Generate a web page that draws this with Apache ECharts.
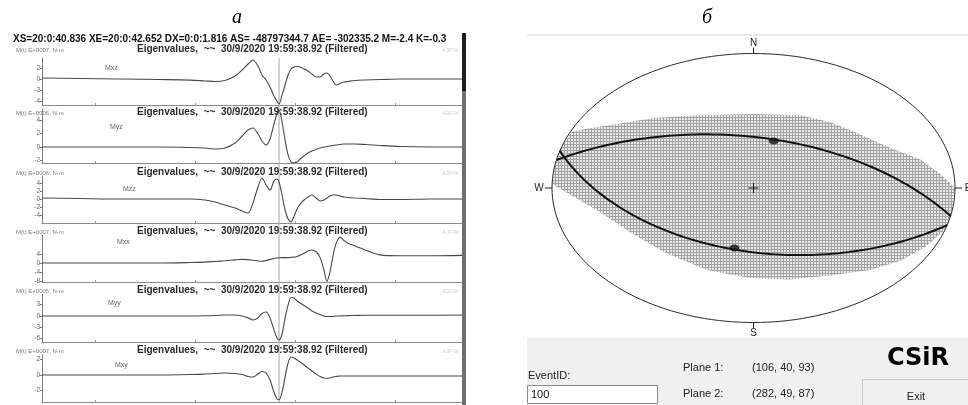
<!DOCTYPE html>
<html>
<head>
<meta charset="utf-8">
<script src="https://cdn.jsdelivr.net/npm/echarts@6.0.0/dist/echarts.min.js"></script>
<style>
html, body { margin: 0; padding: 0; background: #fff; }
#chart { width: 968px; height: 405px; }
</style>
</head>
<body>
<div id="chart"></div>
<script>
// ---------- data: filtered moment-tensor components (time in s after 20:00) ----------
const times = [40.836, 41.000, 41.173, 41.346, 41.476, 41.541, 41.584, 41.627, 41.671, 41.701,
  41.727, 41.748, 41.770, 41.787, 41.805, 41.822, 41.839, 41.852, 41.861, 41.874,
  41.887, 41.900, 41.913, 41.926, 41.939, 41.952, 41.969, 41.986, 42.003, 42.021,
  42.038, 42.055, 42.068, 42.081, 42.094, 42.107, 42.125, 42.142, 42.159, 42.190,
  42.233, 42.298, 42.384, 42.514, 42.652];

const mxz = [0.18, 0.1, 0, -0.1, -0.2, -0.35, -0.45, -0.27, 0.55, 1.64,
  2.73, 3.45, 2.36, 0.73, -0.18, -1.45, -3.1, -4.0, -4.55, -2.9,
  -1.1, 0.73, 1.82, 2.18, 2.27, 2.18, 1.82, 1.45, 0.91, 0.36,
  0.36, 0.91, 1.09, 0.55, -0.36, -1.09, -0.82, -0.55, -0.45, -0.27,
  -0.18, -0.1, 0, 0, 0];
const myz = [0, 0, 0, 0, -0.07, -0.15, -0.3, -0.15, 0.6, 1.64,
  2.54, 2.84, 1.94, 0.9, 0.3, 1.19, 3.43, 4.93, 5.52, 3.73,
  1.04, -1.19, -2.24, -2.39, -2.24, -1.79, -1.34, -0.9, -0.6, -0.37,
  -0.15, 0, 0.07, 0.15, 0.22, 0.3, 0.37, 0.45, 0.45, 0.45,
  0.37, 0.22, 0.07, 0, 0];
const mzz = [0.25, 0.12, 0, 0, 0, -0.25, -0.75, -1.5, -2.25, -3.0,
  -3.5, -1.0, 3.0, 5.25, 3.5, 2.25, 4.5, 5.0, 4.25, 1.0,
  -2.75, -5.0, -5.75, -4.25, -2.5, -1.25, -0.25, 0.5, 1.0, 0.25,
  -0.5, -0.25, 0.25, 0.75, 1.0, 1.0, 0.75, 0.5, 0.38, 0.25,
  0.12, -0.12, -0.12, 0, 0];
const mxx = [0, 0, 0, 0, 0.2, 0.4, 0.7, 1.0, 1.4, 1.6,
  1.5, 1.2, 0.9, 0.8, 1.1, 1.6, 2.0, 2.2, 2.3, 2.4,
  2.4, 2.4, 2.5, 2.6, 2.9, 3.4, 4.3, 5.3, 5.8, 5.0,
  2.5, -3.0, -8.2, -4.0, 3.0, 8.5, 11.5, 10.0, 8.8, 7.6,
  5.8, 3.6, 3.2, 3.2, 3.4];
const myy = [0, 0, 0, 0, 0, 0.05, 0.13, 0.26, 0.26, 0,
  -0.5, -1.06, -0.5, 0.66, 1.06, -0.5, -3.7, -5.8, -6.35, -4.76,
  -0.5, 2.9, 4.9, 4.76, 3.97, 3.44, 2.78, 2.1, 1.32, 0.8,
  0.4, 0, -0.13, -0.13, -0.13, 0, 0, 0.05, 0.1, 0.15,
  0.2, 0.2, 0.2, 0.2, 0.25];
const mxy = [0, 0, 0, 0, 0.06, 0.13, 0.19, 0.26, 0.19, 0.06,
  -0.19, -0.26, 0.13, 0.45, 0.26, -0.65, -2.2, -3.1, -3.2, -2.2,
  -0.26, 1.55, 2.32, 2.2, 1.94, 1.68, 1.29, 0.9, 0.52, 0.13,
  -0.19, -0.39, -0.45, -0.39, -0.26, -0.19, -0.13, -0.13, -0.13, -0.13,
  -0.13, -0.13, -0.13, -0.13, -0.13];

const traceNames = ['Mxz', 'Myz', 'Mzz', 'Mxx', 'Myy', 'Mxy'];
const unitLabels = ['M(t) E+0007, N-m', 'M(t) E+0006, N-m', 'M(t) E+0006, N-m',
  'M(t) E+0007, N-m', 'M(t) E+0005, N-m', 'M(t) E+0007, N-m'];
const yTicks = [[-4, -2, 0, 2], [-2, 0, 2, 4], [-4, -2, 0, 2, 4], [-8, -4, 0, 4], [-6, -3, 0, 3], [-2, 0, 2]];
const timeTicks = [41.065, 41.498, 41.930, 42.363];
const timeStart = 40.836, timeEnd = 42.652;
const pickTime = 41.861;
const headerText = 'XS=20:0:40.836 XE=20:0:42.652 DX=0:0:1.816 AS= -48797344.7 AE= -302335.2 M=-2.4 K=-0.3';
const panelTitle = 'Eigenvalues,  ~~  30/9/2020 19:59:38.92 (Filtered)';

// ---------- data: focal mechanism (strike, dip, rake) ----------
const planes = [[106, 40, 93], [282, 49, 87]];
const eventId = '100';
const compassLabels = ['N', 'S', 'W', 'E'];
// outline of the shaded region on the stereonet (unit-circle coordinates)
const shadeBoundary = [[-0.90, 0.42], [-0.83, 0.44], [-0.66, 0.48], [-0.50, 0.52], [-0.27, 0.54],
  [0.00, 0.55], [0.23, 0.54], [0.38, 0.49], [0.51, 0.41], [0.66, 0.31], [0.83, 0.21],
  [0.93, 0.10], [1.00, 0.00], [0.99, -0.10], [0.98, -0.21], [0.95, -0.31], [0.85, -0.44],
  [0.73, -0.54], [0.58, -0.61], [0.38, -0.65], [0.18, -0.68], [-0.02, -0.67], [-0.23, -0.61],
  [-0.44, -0.48], [-0.61, -0.33], [-0.76, -0.18], [-1.00, 0.03], [-0.985, 0.17], [-0.95, 0.31]];

// ---------- layout ----------
const traces = [mxz, myz, mzz, mxx, myy, mxy];
const PLOT_LEFT = 42, PLOT_W = 420, CHART_W = 968, CHART_H = 405;
const panelTop = [58, 109, 176, 235, 294, 355];
const panelBottom = [105, 163, 223, 282, 342, 402];
const zeroY = [79, 147, 199, 263, 316, 375];
const pxPerUnit = [5.5, 6.7, 4, 2.25, 3.78, 7.75];
const titleY = [49, 112, 172, 231, 290, 350];
const namePos = [[105, 68], [110, 127], [123, 189], [117, 242], [108, 303], [115, 365]];
const FONT = '"Liberation Sans", Arial, sans-serif';

// stereonet placement (ellipse centre and radii in px)
const NET = { cx: 753.5, cy: 188, rx: 201.5, ry: 134.5 };

// ---------- stereonet geometry (lower hemisphere, equal-angle) ----------
const D2R = Math.PI / 180;
function wulff(trend, plunge) {
  const r = Math.tan((90 - plunge) * D2R / 2);
  return [r * Math.sin(trend * D2R), r * Math.cos(trend * D2R)];
}
function greatCircle(strike, dip) {
  const s = strike * D2R, dd = (strike + 90) * D2R, d = dip * D2R;
  const S = [Math.sin(s), Math.cos(s), 0];
  const Dv = [Math.cos(d) * Math.sin(dd), Math.cos(d) * Math.cos(dd), Math.sin(d)];
  const pts = [];
  for (let a = 0; a <= 180; a += 2) {
    const ar = a * D2R;
    const v = [0, 1, 2].map(k => Math.cos(ar) * S[k] + Math.sin(ar) * Dv[k]);
    const plunge = Math.asin(Math.max(-1, Math.min(1, v[2]))) / D2R;
    const trend = Math.atan2(v[0], v[1]) / D2R;
    pts.push(wulff(trend, plunge));
  }
  return pts;
}
const primitive = [];
for (let a = 0; a <= 360; a += 2) primitive.push([Math.cos(a * D2R), Math.sin(a * D2R)]);
const poles = planes.map(p => wulff(p[0] + 270, 90 - p[1]));

// hatch tile for the shaded region
const tile = document.createElement('canvas');
tile.width = 3; tile.height = 3;
const tctx = tile.getContext('2d');
tctx.fillStyle = '#e8e8e8'; tctx.fillRect(0, 0, 3, 3);
tctx.fillStyle = '#a2a2a2'; tctx.fillRect(0, 0, 3, 1); tctx.fillRect(0, 0, 1, 3);

// ---------- chart ----------
const grids = [], xAxes = [], yAxes = [], series = [], graphics = [];

traces.forEach((vals, i) => {
  grids.push({ left: PLOT_LEFT, width: PLOT_W, top: panelTop[i], height: panelBottom[i] - panelTop[i],
    outerBoundsMode: 'none', containLabel: false });
  xAxes.push({
    gridIndex: i, type: 'value', min: timeStart, max: timeEnd,
    axisLine: { show: true, onZero: false, lineStyle: { color: '#8c8c8c', width: 1 } },
    axisTick: { show: true, inside: true, length: 2, customValues: timeTicks, lineStyle: { color: '#9a9a9a' } },
    axisLabel: { show: i === 5, customValues: timeTicks, fontSize: 6, color: '#b0b0b0', margin: 2,
      fontFamily: FONT, formatter: v => v.toFixed(1) },
    splitLine: { show: false }
  });
  yAxes.push({
    gridIndex: i, type: 'value',
    min: (zeroY[i] - panelBottom[i]) / pxPerUnit[i],
    max: (zeroY[i] - panelTop[i]) / pxPerUnit[i],
    axisLine: { show: true, onZero: false, lineStyle: { color: '#7a7a7a', width: 1 } },
    axisTick: { show: true, length: 2, customValues: yTicks[i], lineStyle: { color: '#7a7a7a' } },
    axisLabel: { show: true, customValues: yTicks[i], fontSize: 6.5, color: '#666', margin: 2, fontFamily: FONT },
    splitLine: { show: false }
  });
  series.push({
    type: 'line', xAxisIndex: i, yAxisIndex: i,
    data: times.map((t, k) => [t, vals[k]]),
    showSymbol: false, smooth: 0.3, clip: false,
    lineStyle: { color: '#484848', width: 1.1 }, z: 3
  });
  graphics.push(
    { type: 'text', x: 137, y: titleY[i], z: 50,
      style: { text: panelTitle, font: 'bold 10px ' + FONT, fill: '#2a2a2a', align: 'left', verticalAlign: 'middle' } },
    { type: 'text', x: 16, y: titleY[i] + 1, z: 50,
      style: { text: unitLabels[i], font: '6px ' + FONT, fill: '#7a7a7a', align: 'left', verticalAlign: 'middle' } },
    { type: 'text', x: namePos[i][0], y: namePos[i][1], z: 50,
      style: { text: traceNames[i], font: '7px ' + FONT, fill: '#666', align: 'left', verticalAlign: 'middle' } },
    { type: 'text', x: 442, y: titleY[i] + 1, z: 50,
      style: { text: 'A3FW', font: '6px ' + FONT, fill: '#d0d0d0', align: 'left', verticalAlign: 'middle' } }
  );
});

// full-height grid carrying the pick cursor
grids.push({ left: PLOT_LEFT, width: PLOT_W, top: panelTop[0], height: panelBottom[5] - panelTop[0],
  outerBoundsMode: 'none', containLabel: false });
xAxes.push({ gridIndex: 6, type: 'value', min: timeStart, max: timeEnd, show: false });
yAxes.push({ gridIndex: 6, type: 'value', min: 0, max: 1, show: false });
series.push({
  type: 'line', xAxisIndex: 6, yAxisIndex: 6, data: [[pickTime, 0], [pickTime, 1]],
  showSymbol: false, lineStyle: { color: '#a8a8a8', width: 1 }, z: 1
});

// stereonet grid
grids.push({ left: NET.cx - NET.rx, width: 2 * NET.rx, top: NET.cy - NET.ry, height: 2 * NET.ry,
  outerBoundsMode: 'none', containLabel: false });
xAxes.push({ gridIndex: 7, type: 'value', min: -1, max: 1, show: false });
yAxes.push({ gridIndex: 7, type: 'value', min: -1, max: 1, show: false });

series.push({
  type: 'custom', xAxisIndex: 7, yAxisIndex: 7, data: [[0, 0]], silent: true, clip: false, z: 2,
  renderItem: (params, api) => ({
    type: 'polygon',
    shape: { points: shadeBoundary.map(p => api.coord(p)) },
    style: { fill: { image: tile, repeat: 'repeat' }, stroke: null }
  })
});
series.push({
  type: 'line', xAxisIndex: 7, yAxisIndex: 7, data: primitive, showSymbol: false, clip: false,
  lineStyle: { color: '#2a2a2a', width: 1 }, z: 3
});
planes.forEach(p => {
  series.push({
    type: 'line', xAxisIndex: 7, yAxisIndex: 7, data: greatCircle(p[0], p[1]), showSymbol: false,
    clip: false, smooth: false, lineStyle: { color: '#111', width: 2 }, z: 4
  });
});
series.push({
  type: 'scatter', xAxisIndex: 7, yAxisIndex: 7, data: poles, symbol: 'circle', symbolSize: [10, 7],
  itemStyle: { color: '#111' }, z: 5
});
// compass ticks and letters
series.push({
  type: 'custom', xAxisIndex: 7, yAxisIndex: 7, data: [[0, 1], [0, -1], [-1, 0], [1, 0]], clip: false, z: 5,
  renderItem: (params, api) => {
    const p = api.coord([api.value(0), api.value(1)]);
    const k = params.dataIndex;
    const dx = [0, 0, -1, 1][k], dy = [-1, 1, 0, 0][k];
    const L = dx ? 7 : 6;
    return {
      type: 'group',
      children: [
        { type: 'line', shape: { x1: p[0], y1: p[1], x2: p[0] + dx * L, y2: p[1] + dy * L },
          style: { stroke: '#222', lineWidth: 1 } },
        { type: 'text', x: p[0] + dx * (L + 6), y: p[1] + dy * (L + 5) + (k === 0 ? 1 : 0),
          style: { text: compassLabels[k], font: '10px ' + FONT, fill: '#222', align: 'center', verticalAlign: 'middle' } }
      ]
    };
  }
});
// centre cross
series.push({
  type: 'custom', xAxisIndex: 7, yAxisIndex: 7, data: [[0, 0]], clip: false, z: 5,
  renderItem: (params, api) => {
    const p = api.coord([0, 0]);
    return {
      type: 'group',
      children: [
        { type: 'line', shape: { x1: p[0] - 5, y1: p[1], x2: p[0] + 5, y2: p[1] }, style: { stroke: '#111', lineWidth: 1 } },
        { type: 'line', shape: { x1: p[0], y1: p[1] - 5, x2: p[0], y2: p[1] + 5 }, style: { stroke: '#111', lineWidth: 1 } }
      ]
    };
  }
});

// ---------- page furniture: captions, header, control panel ----------
graphics.push(
  { type: 'text', x: 237, y: 18, z: 50,
    style: { text: 'а', font: 'italic 20px "Liberation Serif", serif', fill: '#000', align: 'center', verticalAlign: 'middle' } },
  { type: 'text', x: 707, y: 18, z: 50,
    style: { text: 'б', font: 'italic 20px "Liberation Serif", serif', fill: '#000', align: 'center', verticalAlign: 'middle' } },
  { type: 'text', x: 13, y: 39, z: 50,
    style: { text: headerText, font: 'bold 10px ' + FONT, fill: '#111', align: 'left', verticalAlign: 'middle' } },
  // scroll bar at the right of the trace window
  { type: 'rect', z: 0, shape: { x: 462, y: 33, width: 4, height: 372 }, style: { fill: '#6e6e6e' } },
  { type: 'rect', z: 0, shape: { x: 462, y: 33, width: 4, height: 58 }, style: { fill: '#1e1e1e' } },
  // stereonet window
  { type: 'rect', z: 0, shape: { x: 527, y: 34, width: 441, height: 2 }, style: { fill: '#e8e8e8' } },
  { type: 'rect', z: 0, shape: { x: 527, y: 338, width: 441, height: 67 }, style: { fill: '#f0f0f0' } },
  { type: 'text', x: 528, y: 376, z: 50,
    style: { text: 'EventID:', font: '11px ' + FONT, fill: '#222', align: 'left', verticalAlign: 'middle' } },
  { type: 'rect', z: 1, shape: { x: 527.5, y: 385.5, width: 130, height: 18 },
    style: { fill: '#fff', stroke: '#8a8a8a', lineWidth: 1 } },
  { type: 'text', x: 531, y: 395, z: 50,
    style: { text: eventId, font: '11px ' + FONT, fill: '#111', align: 'left', verticalAlign: 'middle' } },
  { type: 'text', x: 683, y: 368, z: 50,
    style: { text: 'Plane 1:', font: '11px ' + FONT, fill: '#222', align: 'left', verticalAlign: 'middle' } },
  { type: 'text', x: 752, y: 368, z: 50,
    style: { text: '(' + planes[0].join(', ') + ')', font: '11px ' + FONT, fill: '#222', align: 'left', verticalAlign: 'middle' } },
  { type: 'text', x: 683, y: 394, z: 50,
    style: { text: 'Plane 2:', font: '11px ' + FONT, fill: '#222', align: 'left', verticalAlign: 'middle' } },
  { type: 'text', x: 752, y: 394, z: 50,
    style: { text: '(' + planes[1].join(', ') + ')', font: '11px ' + FONT, fill: '#222', align: 'left', verticalAlign: 'middle' } },
  { type: 'text', x: 918, y: 359, z: 50,
    style: { text: 'CSiR', font: 'bold 24px "DejaVu Sans", sans-serif', fill: '#000', align: 'center', verticalAlign: 'middle' } },
  { type: 'rect', z: 1, shape: { x: 862.5, y: 379.5, width: 110, height: 30 },
    style: { fill: '#f0f0f0', stroke: '#c8c8c8', lineWidth: 1 } },
  { type: 'text', x: 916, y: 397, z: 50,
    style: { text: 'Exit', font: '11px ' + FONT, fill: '#222', align: 'center', verticalAlign: 'middle' } }
);

const chart = echarts.init(document.getElementById('chart'), null, { renderer: 'canvas', width: CHART_W, height: CHART_H });
chart.setOption({
  backgroundColor: '#ffffff',
  animation: false,
  grid: grids,
  xAxis: xAxes,
  yAxis: yAxes,
  series: series,
  graphic: { elements: graphics }
});
</script>
</body>
</html>
